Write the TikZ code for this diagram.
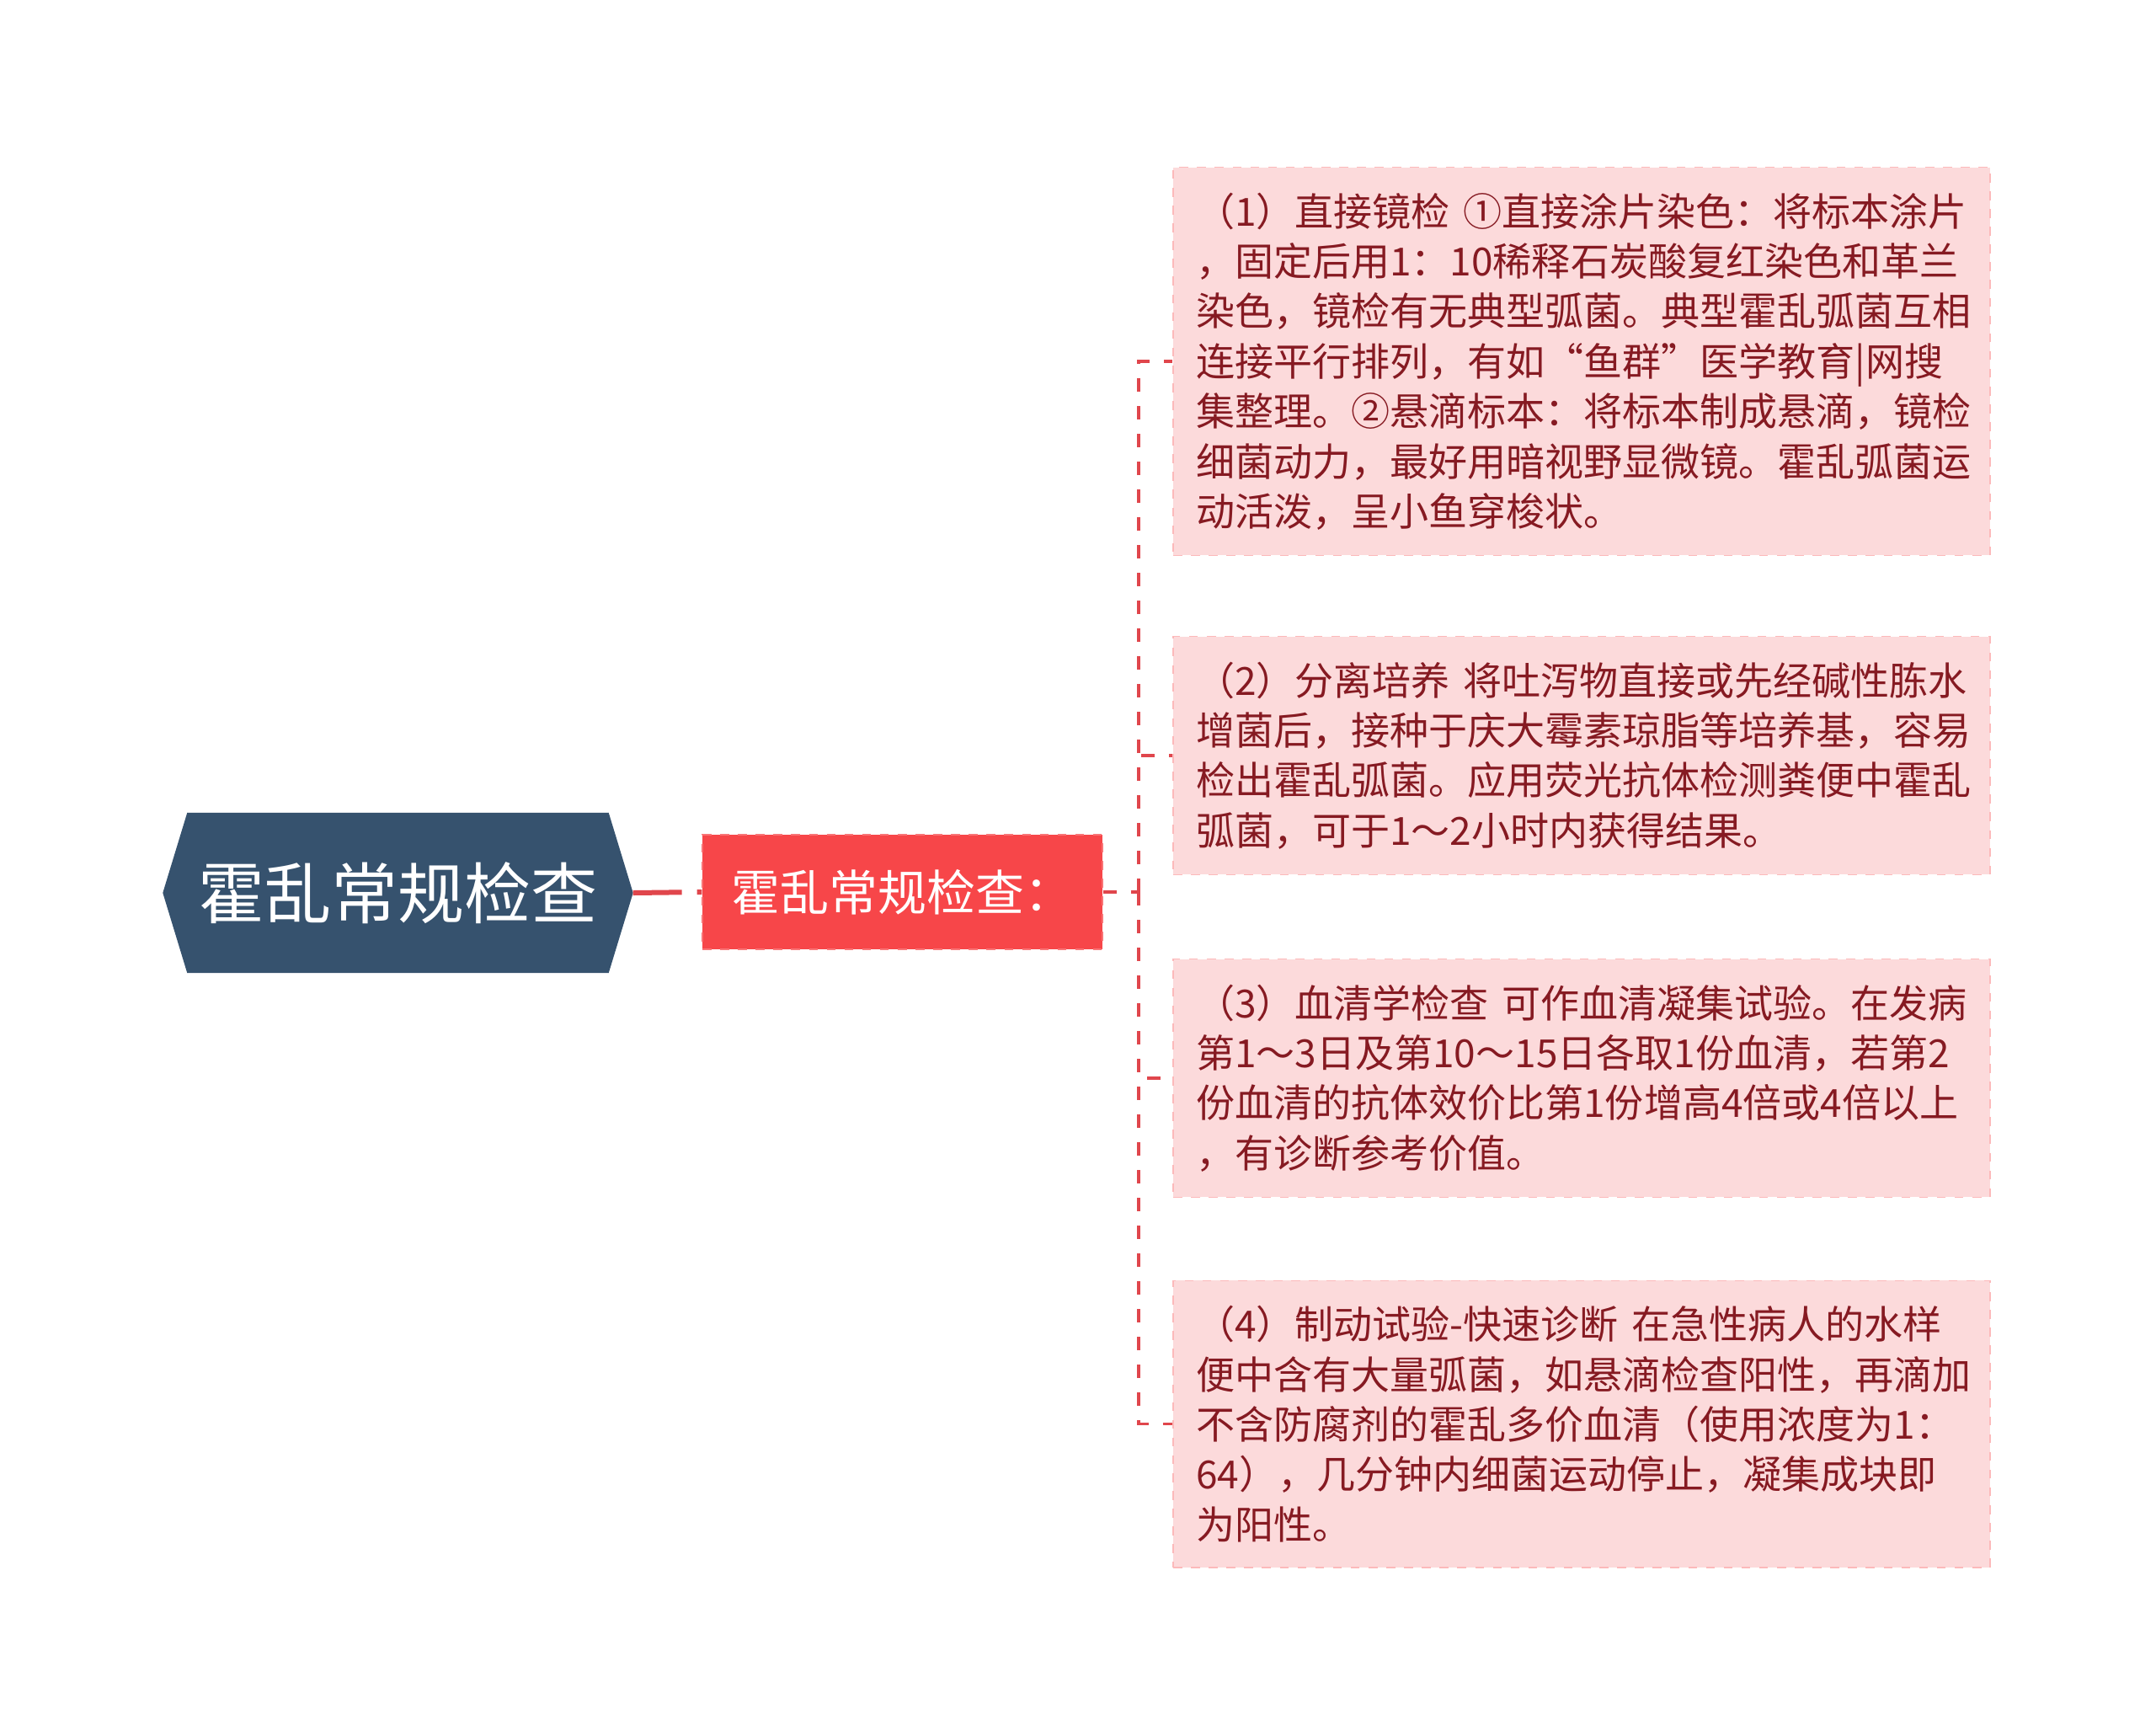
\documentclass[tikz,border=0pt]{standalone}
\usepackage{fontspec}
\setmainfont{Noto Sans CJK SC}
\usepackage{tikz}
\usetikzlibrary{backgrounds}
\definecolor{rootblue}{HTML}{36526E}
\definecolor{subred}{HTML}{F74649}
\definecolor{leafpink}{HTML}{FCDADB}
\definecolor{leaftext}{HTML}{861A22}
\definecolor{linered}{HTML}{E0464C}
\tikzset{
    topic/.style={minimum width=5.57cm, minimum height=1.89cm, inner sep=0pt, text=white,
        font=\fontsize{22.5pt}{27pt}\selectfont},
    subtopic/.style={fill=subred, draw=subred!75!white, dashed, minimum width=4.75cm,
        minimum height=1.36cm, inner sep=0pt, text=white, font=\fontsize{16.5pt}{20pt}\selectfont},
    leaf/.style={fill=leafpink, draw=leafpink!85!red, dashed, text width=9.16cm, inner xsep=0.27cm,
        inner ysep=0.3cm, align=left, text=leaftext, font=\fontsize{13.1pt}{16.9pt}\selectfont},
    mainline/.style={linered, line width=0.06cm, dash pattern=on 0.58cm off 0.18cm},
    thinline/.style={linered, line width=0.033cm, dash pattern=on 0.16cm off 0.17cm},
}
\begin{document}
\begin{tikzpicture}
    \useasboundingbox (0, 0) rectangle (25.6, -20.6);

    % central topic and its hexagon
    \node[topic] (root) at (4.725, -10.6) {霍乱常规检查};
    \begin{scope}[on background layer]
        \fill[rootblue] (root.west) -- ([xshift=0.29cm]root.north west) -- ([xshift=-0.29cm]root.north east)
            -- (root.east) -- ([xshift=-0.29cm]root.south east) -- ([xshift=0.29cm]root.south west) -- cycle;
    \end{scope}

    \node[subtopic] (sub) at (10.715, -10.59) {霍乱常规检查：};

    % the four items
    \node[leaf] (b1) at (18.78, -4.29) {（1）直接镜检 ①直接涂片染色：将标本涂片\\
        ，固定后用1：10稀释石炭酸复红染色和革兰\\
        染色，镜检有无典型弧菌。典型霍乱弧菌互相\\
        连接平行排列，有如“鱼群”医学教育|网搜\\
        集整理。②悬滴标本：将标本制成悬滴，镜检\\
        细菌动力，最好用暗视野显微镜。霍乱弧菌运\\
        动活泼，呈小鱼穿梭状。};
    \node[leaf] (b2) at (18.78, -8.97) {（2）分离培养 将吐泻物直接或先经碱性胨水\\
        增菌后，接种于庆大霉素琼脂等培养基，容易\\
        检出霍乱弧菌。应用荧光抗体检测粪便中霍乱\\
        弧菌，可于1～2小时内获得结果。};
    \node[leaf] (b3) at (18.78, -12.80) {（3）血清学检查 可作血清凝集试验。在发病\\
        第1～3日及第10～15日各取1份血清，若第2\\
        份血清的抗体效价比第1份增高4倍或4倍以上\\
        ，有诊断参考价值。};
    \node[leaf] (b4) at (18.78, -16.905) {（4）制动试验-快速诊断 在急性病人的水样\\
        便中含有大量弧菌，如悬滴检查阳性，再滴加\\
        不含防腐剂的霍乱多价血清（使用浓度为1：\\
        64），几分钟内细菌运动停止，凝集成块即\\
        为阳性。};

    % connectors
    \coordinate (trunk) at (13.52, -10.59);
    \draw[mainline] (root.east) -- (sub.west);
    \draw[thinline] (sub.east) -- (trunk);
    \foreach \b in {b1, b2, b3, b4}
        \draw[thinline] (trunk) |- (\b.west);
\end{tikzpicture}
\end{document}
